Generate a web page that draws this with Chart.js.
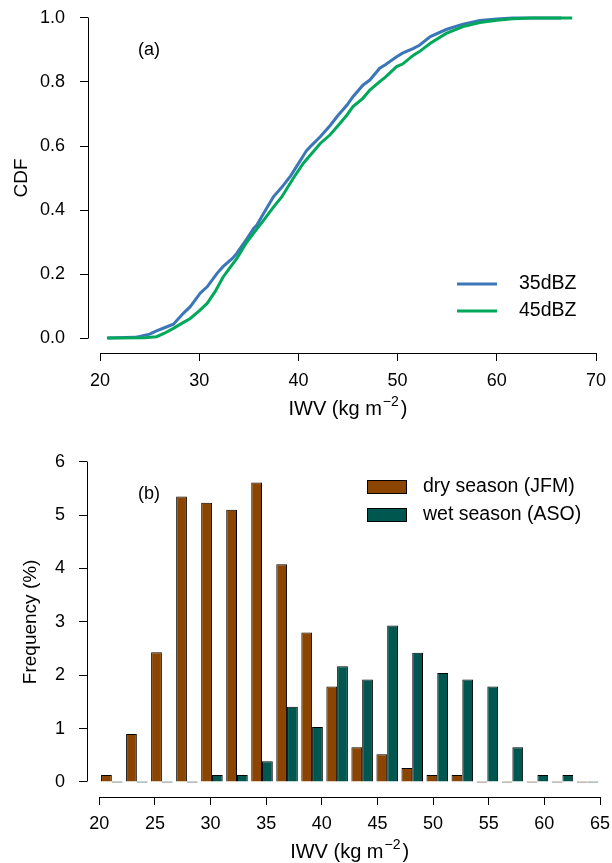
<!DOCTYPE html>
<html>
<head>
<meta charset="utf-8">
<script src="https://cdn.jsdelivr.net/npm/chart.js@4"></script>
<style>
  body { margin: 0; background: #fff; }
  canvas { position: absolute; left: 0; }
  #cdfChart { top: 0; }
  #freqChart { top: 430px; }
</style>
</head>
<body>
<canvas id="cdfChart" width="612" height="430"></canvas>
<canvas id="freqChart" width="612" height="433"></canvas>
<script>
// (a) CDF of IWV
const iwv35 = [20.7, 23.5, 24.0, 25.0, 25.7, 26.5, 27.4, 28.4, 29.1, 30.1, 30.8,
  31.8, 32.4, 33.4, 33.8, 34.8, 35.5, 35.8, 36.5, 37.5, 38.3, 39.2, 40.0, 40.8,
  41.2, 42.2, 43.2, 43.9, 44.9, 45.5, 46.5, 47.2, 48.2, 48.8, 49.9, 50.5, 51.6,
  52.2, 53.3, 54.9, 56.6, 58.3, 60.0, 61.6, 66.5];
const cdf35 = [0, 0.002, 0.005, 0.012, 0.022, 0.032, 0.043, 0.077, 0.098, 0.14,
  0.16, 0.202, 0.223, 0.25, 0.265, 0.31, 0.343, 0.352, 0.39, 0.442, 0.47, 0.506,
  0.545, 0.585, 0.598, 0.629, 0.664, 0.692, 0.728, 0.754, 0.79, 0.806, 0.843,
  0.855, 0.879, 0.89, 0.905, 0.915, 0.942, 0.964, 0.981, 0.992, 0.997, 1.0, 1.0];
const iwv45 = [20.8, 24.5, 25.7, 26.5, 27.4, 28.2, 29.1, 30.0, 30.8, 31.6, 32.4,
  33.1, 33.8, 34.8, 35.8, 36.6, 37.5, 38.3, 39.5, 40.5, 41.3, 42.2, 43.2, 43.9,
  44.9, 45.5, 46.5, 47.2, 48.2, 48.8, 49.9, 50.5, 51.6, 52.2, 53.3, 54.9, 56.6,
  58.3, 60.0, 61.6, 63.5, 67.6];
const cdf45 = [0, 0.001, 0.004, 0.015, 0.030, 0.045, 0.061, 0.085, 0.108, 0.145,
  0.19, 0.22, 0.249, 0.30, 0.34, 0.372, 0.41, 0.44, 0.50, 0.546, 0.575, 0.608,
  0.635, 0.66, 0.697, 0.723, 0.749, 0.775, 0.801, 0.816, 0.848, 0.856, 0.884,
  0.895, 0.921, 0.952, 0.973, 0.986, 0.993, 0.998, 1.0, 1.0];
const cdfTicksX = [20, 30, 40, 50, 60, 70];
const cdfTicksY = [0, 0.2, 0.4, 0.6, 0.8, 1.0];

// (b) frequency histogram, bins of 2.25 kg m-2
const binCenters = [21.125, 23.375, 25.625, 27.875, 30.125, 32.375, 34.625,
  36.875, 39.125, 41.375, 43.625, 45.875, 48.125, 50.375, 52.625, 54.875,
  57.125, 59.375, 61.625, 63.875];
const drySeason = [0.13, 0.9, 2.43, 5.35, 5.23, 5.1, 5.61, 4.08, 2.8, 1.79,
  0.65, 0.52, 0.26, 0.13, 0.13, 0, 0, 0, 0, 0];
const wetSeason = [0, 0, 0, 0, 0.13, 0.13, 0.39, 1.41, 1.03, 2.17, 1.92, 2.93,
  2.42, 2.04, 1.92, 1.79, 0.65, 0.13, 0.13, 0];
const freqTicksX = [20, 25, 30, 35, 40, 45, 50, 55, 60, 65];
const freqTicksY = [0, 1, 2, 3, 4, 5, 6];

const FAMILY = '"Liberation Sans", Arial, sans-serif';
Chart.defaults.font.family = FAMILY;
Chart.defaults.font.size = 18;
Chart.defaults.color = '#000';
Chart.defaults.animation = false;

const align = (p) => Math.round(p - 0.5) + 0.5;

// R-style detached axis lines: only from first to last tick
const axisLines = {
  id: 'axisLines',
  afterDraw(chart) {
    const {ctx, chartArea, scales: {x, y}} = chart;
    ctx.save();
    ctx.strokeStyle = '#000';
    ctx.lineWidth = 1;
    ctx.beginPath();
    const yb = align(chartArea.bottom);
    ctx.moveTo(align(x.getPixelForValue(x.ticks[0].value)), yb);
    ctx.lineTo(align(x.getPixelForValue(x.ticks[x.ticks.length - 1].value)), yb);
    const xl = align(chartArea.left);
    ctx.moveTo(xl, align(y.getPixelForValue(y.ticks[0].value)));
    ctx.lineTo(xl, align(y.getPixelForValue(y.ticks[y.ticks.length - 1].value)));
    ctx.stroke();
    ctx.restore();
  }
};

// panel tag, x title with superscript, hand-placed legend
const panelNotes = {
  id: 'panelNotes',
  afterDraw(chart, args, opts) {
    const {ctx, scales: {x}} = chart;
    ctx.save();
    ctx.font = '18px ' + FAMILY;
    ctx.fillStyle = '#000';
    ctx.textBaseline = 'middle';
    ctx.textAlign = 'center';
    ctx.fillText(opts.tag, opts.tagX, opts.tagY);

    // "IWV (kg m^-2)"
    const main = 'IWV (kg m', sup = '−2', close = ')';
    const big = '20px ' + FAMILY, small = '14px ' + FAMILY;
    ctx.font = big;
    const w1 = ctx.measureText(main).width, w3 = ctx.measureText(close).width;
    ctx.font = small;
    const w2 = ctx.measureText(sup).width;
    const total = w1 + 1 + w2 + 2 + w3;
    const cx = (x.getPixelForValue(x.ticks[0].value) +
                x.getPixelForValue(x.ticks[x.ticks.length - 1].value)) / 2;
    let tx = cx - total / 2;
    const ty = opts.titleY;
    ctx.textAlign = 'left';
    ctx.font = big;
    ctx.fillText(main, tx, ty);
    tx += w1 + 1;
    ctx.font = small;
    ctx.fillText(sup, tx, ty - 7);
    tx += w2 + 2;
    ctx.font = big;
    ctx.fillText(close, tx, ty);

    ctx.font = '19.5px ' + FAMILY;
    chart.data.datasets.forEach((ds, i) => {
      const yy = opts.legendY + i * opts.legendGap;
      if (opts.kind === 'line') {
        ctx.strokeStyle = ds.borderColor;
        ctx.lineWidth = 3;
        ctx.beginPath();
        ctx.moveTo(opts.legendX, yy);
        ctx.lineTo(opts.legendX + 40, yy);
        ctx.stroke();
      } else {
        ctx.fillStyle = ds.backgroundColor;
        ctx.fillRect(opts.legendX, yy - 7, 40, 14);
        ctx.strokeStyle = '#000';
        ctx.lineWidth = 1;
        ctx.strokeRect(opts.legendX + 0.5, yy - 6.5, 39, 13);
      }
      ctx.fillStyle = '#000';
      ctx.fillText(ds.label, opts.legendX + opts.textOffset, yy);
    });
    ctx.restore();
  }
};

function fixedAxis(ticks, fmt, size, horizontal, pad) {
  return {
    afterBuildTicks: (s) => { s.ticks = ticks.map(v => ({value: v})); },
    afterFit: (s) => {
      if (horizontal) s.height = size; else s.width = size;
      s.paddingTop = 0; s.paddingBottom = 0; s.paddingLeft = 0; s.paddingRight = 0;
    },
    ticks: {callback: fmt, autoSkip: false, maxRotation: 0, padding: pad},
    grid: {display: true, drawOnChartArea: false, drawTicks: true, tickLength: 8,
           color: '#000', lineWidth: 1, offset: false},
    border: {display: false}
  };
}

const toXY = (xs, ys) => xs.map((v, i) => ({x: v, y: ys[i]}));

// (a) CDF chart
new Chart(document.getElementById('cdfChart'), {
  type: 'line',
  data: {
    datasets: [
      {label: '35dBZ', data: toXY(iwv35, cdf35), borderColor: '#3a76b8',
       borderWidth: 3, pointRadius: 0, tension: 0, order: 1},
      {label: '45dBZ', data: toXY(iwv45, cdf45), borderColor: '#00a85a',
       borderWidth: 3, pointRadius: 0, tension: 0, order: 0}
    ]
  },
  options: {
    responsive: false,
    layout: {padding: {top: 3, right: 16, left: 0, bottom: 0}},
    plugins: {
      legend: {display: false},
      tooltip: {enabled: false},
      panelNotes: {tag: '(a)', tagX: 149, tagY: 50, titleY: 409, kind: 'line',
                   legendX: 457, legendY: 284, legendGap: 27, textOffset: 62}
    },
    scales: {
      x: Object.assign(fixedAxis(cdfTicksX, v => v, 77, true, 9),
        {type: 'linear', min: 18.79, max: 70}),
      y: Object.assign(fixedAxis(cdfTicksY, v => v.toFixed(1), 88, false, 15),
        {min: -0.046875, max: 1.046875,
         title: {display: true, text: 'CDF', font: {size: 19},
                 padding: {top: 10, bottom: 0}}})
    }
  },
  plugins: [axisLines, panelNotes]
});

// (b) frequency histogram
new Chart(document.getElementById('freqChart'), {
  type: 'bar',
  data: {
    datasets: [
      {label: 'dry season (JFM)', data: toXY(binCenters, drySeason),
       backgroundColor: '#8b4500', borderColor: '#000', borderWidth: 1,
       minBarLength: 1},
      {label: 'wet season (ASO)', data: toXY(binCenters, wetSeason),
       backgroundColor: '#00574f', borderColor: '#000', borderWidth: 1,
       minBarLength: 1}
    ]
  },
  options: {
    responsive: false,
    categoryPercentage: 0.86,
    barPercentage: 1.0,
    layout: {padding: {top: 16.7, right: 12, left: 0, bottom: 0}},
    plugins: {
      legend: {display: false},
      tooltip: {enabled: false},
      panelNotes: {tag: '(b)', tagX: 149, tagY: 64, titleY: 422, kind: 'box',
                   legendX: 367, legendY: 57, legendGap: 28, textOffset: 56}
    },
    scales: {
      x: Object.assign(fixedAxis(freqTicksX, v => v, 66, true, 8),
        {type: 'linear', offset: false, min: 18.895, max: 65}),
      y: Object.assign(fixedAxis(freqTicksY, v => v, 87, false, 14),
        {min: -0.281, max: 6.281,
         title: {display: true, text: 'Frequency (%)', font: {size: 19},
                 padding: {top: 19, bottom: 0}}})
    }
  },
  plugins: [axisLines, panelNotes]
});
</script>
</body>
</html>
